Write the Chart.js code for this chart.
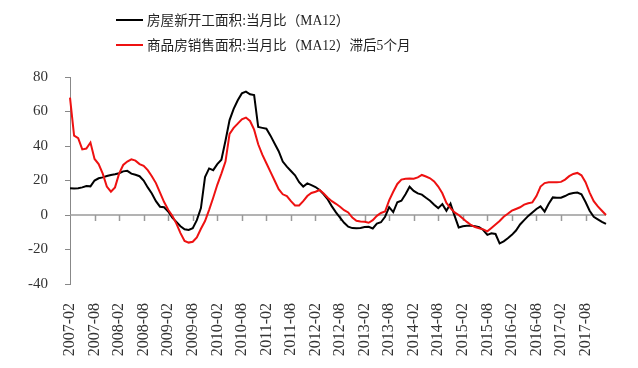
<!DOCTYPE html>
<html>
<head>
<meta charset="utf-8">
<script src="https://cdn.jsdelivr.net/npm/chart.js@4.4.1/dist/chart.umd.min.js"></script>
<style>
  html, body { margin: 0; padding: 0; background: #fff; }
  #wrap { width: 638px; height: 368px; }
</style>
</head>
<body>
<div id="wrap"><canvas id="chart" width="638" height="368"></canvas></div>
<script>
// monthly categories, 2007-02 .. 2018-01
const months = [];
for (let y = 2007, m = 2; months.length < 132; m++) {
  if (m > 12) { m = 1; y++; }
  months.push(y + '-' + String(m).padStart(2, '0'));
}

const tickLabels = [
  '2007-02', '2007-08', '2008-02', '2008-08', '2009-02', '2009-08',
  '2010-02', '2010-08', '2011-02', '2011-08', '2012-02', '2012-08',
  '2013-02', '2013-08', '2014-02', '2014-08', '2015-02', '2015-08',
  '2016-02', '2016-08', '2017-02', '2017-08'
];

// 房屋新开工面积 当月比 (MA12)
const newStarts = [
  15.5, 15.3, 15.5, 16, 16.8, 16.6, 20, 21.3, 21.8, 22.6, 23.2, 23.6,
  24.2, 25.3, 25.6, 24, 23.3, 22.5, 20, 16, 12.5, 8, 4.8, 4.5,
  2, -1.5, -4, -6.5, -8.3, -8.7, -7.7, -3, 4, 22, 27, 26,
  29.5, 32, 43, 55, 61.5, 66.5, 70.5, 71.5, 70, 69.5, 51, 50.5,
  50, 46, 41.5, 37, 31, 28, 25.5, 23, 19, 16.5, 18.3, 17.3,
  16.2, 14.5, 12, 9, 5, 1.5, -1.5, -4.5, -6.8, -7.6, -7.7, -7.5,
  -7, -6.8, -7.8, -5, -4.2, -1, 4.6, 1.7, 7.4, 8.3, 12, 16.4,
  14, 12.5, 11.8, 10, 8.3, 6, 4, 6.3, 2.4, 6.6, -0.5, -7.2,
  -6.5, -6.3, -6.2, -6.5, -7, -8.7, -11.5, -10.6, -11, -16.4, -15.3, -13.5,
  -11.5, -9, -5.5, -3, -0.5, 1.5, 3.5, 5, 2, 6.5, 10.2, 10,
  10, 11, 12.2, 12.8, 13, 12, 7.5, 2.5, -1, -2.5, -4, -5.2
];

// 商品房销售面积 当月比 (MA12) 滞后5个月
const salesLag5 = [
  68, 46, 44.5, 38, 38.5, 42, 32.5, 29.5, 24, 16.5, 13.5, 16,
  24, 29, 31, 32.3, 31.5, 29.5, 28.5, 26, 22.5, 18.5, 13, 7.5,
  3, -0.5, -5, -10.5, -15, -16, -15.5, -13, -8, -3.5, 3, 10,
  17.5, 24, 31, 47, 50.5, 53, 55.5, 56.5, 54.5, 49.5, 41, 35,
  30, 25, 20, 15, 12, 11, 8, 5.5, 5.5, 8, 11, 12.8,
  13.5, 14.5, 12.5, 10, 8, 6.5, 4.8, 2.8, 1.5, -1.5, -3.3, -3.7,
  -3.9, -4.5, -3, -0.5, 1.2, 2, 8.5, 13.5, 18, 20.5, 21, 21.2,
  21, 21.8, 23.2, 22.3, 21.3, 19.5, 16.5, 12.6, 7, 4, 1.5, 0,
  -2, -4, -5.8, -7, -7.7, -8.3, -9.5, -7.5, -5.5, -3.5, -1, 0.7,
  2.5, 3.5, 4.5, 6, 6.8, 7.3, 11, 16.5, 18.5, 19, 19, 19,
  19.2, 20.5, 22.5, 23.8, 24.4, 23, 19, 13, 8, 5, 2.5, 0
];

const serif = '"Liberation Serif", "Times New Roman", serif';

// gray zero line with small tick marks at the labelled months
const zeroLine = {
  id: 'zeroLine',
  beforeDatasetsDraw(chart) {
    const { ctx, chartArea, scales: { x, y } } = chart;
    const y0 = y.getPixelForValue(0);
    ctx.save();
    ctx.strokeStyle = '#9a9a9a';
    ctx.lineWidth = 1.5;
    ctx.beginPath();
    ctx.moveTo(chartArea.left, y0);
    ctx.lineTo(chartArea.right, y0);
    months.forEach((m, i) => {
      if (i > 0 && tickLabels.includes(m)) {
        const px = Math.round(x.getPixelForValue(i)) + 0.5;
        ctx.moveTo(px, y0);
        ctx.lineTo(px, y0 + 6);
      }
    });
    ctx.stroke();
    ctx.restore();
  }
};

// legend as two stacked rows
const stackedLegend = {
  id: 'stackedLegend',
  afterDraw(chart) {
    const ctx = chart.ctx;
    ctx.save();
    ctx.font = '13.6px "Liberation Serif", "Noto Sans CJK SC", serif';
    ctx.textBaseline = 'middle';
    ctx.fillStyle = '#222';
    chart.data.datasets.forEach((ds, i) => {
      const yy = 20 + i * 25;
      ctx.strokeStyle = ds.borderColor;
      ctx.lineWidth = 2;
      ctx.beginPath();
      ctx.moveTo(116, yy);
      ctx.lineTo(143, yy);
      ctx.stroke();
      ctx.fillText(ds.label, 147, yy + 1.5);
    });
    ctx.restore();
  }
};

new Chart(document.getElementById('chart').getContext('2d'), {
  type: 'line',
  data: {
    labels: months,
    datasets: [{
      label: '房屋新开工面积:当月比（MA12）',
      data: newStarts,
      borderColor: '#000000',
      borderWidth: 2,
      pointRadius: 0,
      tension: 0,
      order: 1
    }, {
      label: '商品房销售面积:当月比（MA12）滞后5个月',
      data: salesLag5,
      borderColor: '#ee1111',
      borderWidth: 2,
      pointRadius: 0,
      tension: 0,
      order: 0
    }]
  },
  options: {
    responsive: false,
    animation: false,
    layout: { padding: { top: 77, right: 32, left: 0, bottom: 0 } },
    plugins: {
      legend: { display: false },
      tooltip: { enabled: false }
    },
    scales: {
      x: {
        grid: { display: false },
        border: { display: false },
        ticks: {
          autoSkip: false,
          maxRotation: 90,
          minRotation: 90,
          padding: 11,
          color: '#333',
          font: { family: serif, size: 16 },
          callback: function (val, i) {
            const lab = months[i];
            return tickLabels.includes(lab) ? lab : null;
          }
        },
        afterFit: s => { s.height = 84; }
      },
      y: {
        min: -40,
        max: 80,
        ticks: {
          stepSize: 20,
          padding: 17,
          color: '#333',
          font: { family: serif, size: 15 }
        },
        grid: {
          drawOnChartArea: false,
          drawTicks: true,
          tickLength: 5,
          color: '#888'
        },
        border: { display: true, color: '#888', width: 1 },
        afterFit: s => { s.width = 70; }
      }
    }
  },
  plugins: [zeroLine, stackedLegend]
});
</script>
</body>
</html>
